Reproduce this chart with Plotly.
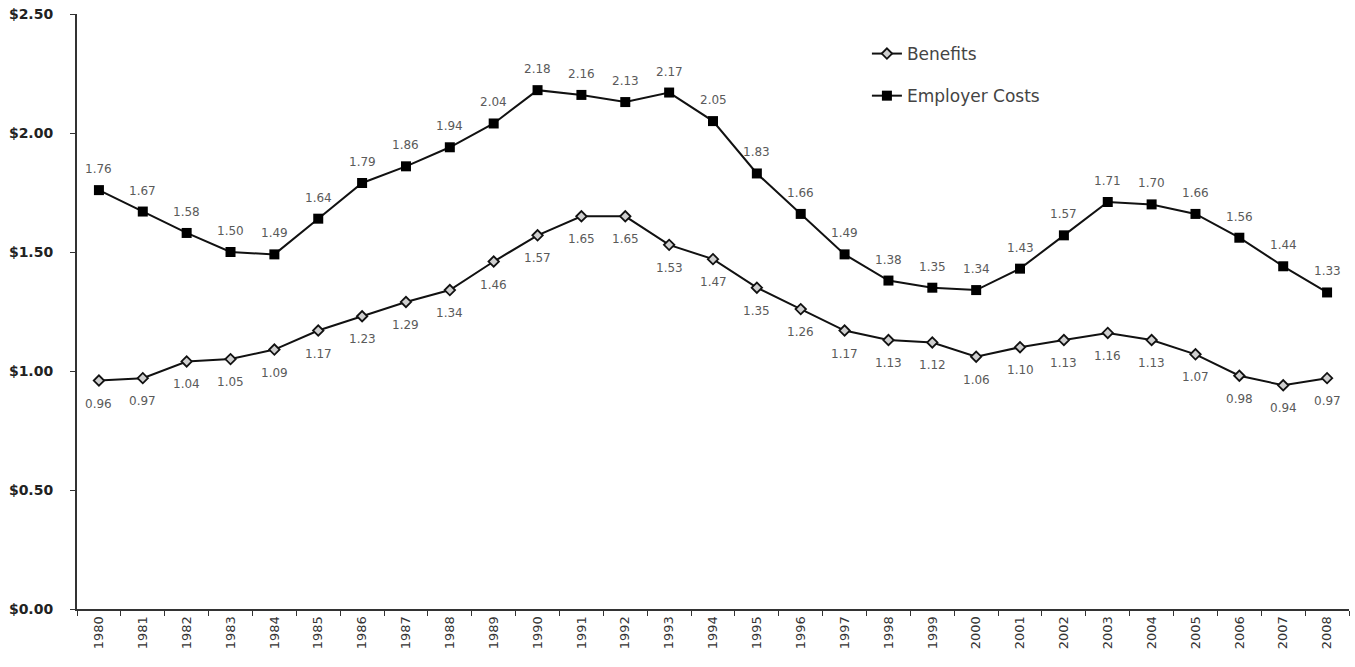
import plotly.graph_objects as go

years = [str(y) for y in range(1980, 2009)]
benefits = [0.96, 0.97, 1.04, 1.05, 1.09, 1.17, 1.23, 1.29, 1.34, 1.46,
            1.57, 1.65, 1.65, 1.53, 1.47, 1.35, 1.26, 1.17, 1.13, 1.12,
            1.06, 1.10, 1.13, 1.16, 1.13, 1.07, 0.98, 0.94, 0.97]
employer_costs = [1.76, 1.67, 1.58, 1.50, 1.49, 1.64, 1.79, 1.86, 1.94, 2.04,
                  2.18, 2.16, 2.13, 2.17, 2.05, 1.83, 1.66, 1.49, 1.38, 1.35,
                  1.34, 1.43, 1.57, 1.71, 1.70, 1.66, 1.56, 1.44, 1.33]
y_ticks = [0, 0.5, 1.0, 1.5, 2.0, 2.5]
y_tick_text = ["$0.00", "$0.50", "$1.00", "$1.50", "$2.00", "$2.50"]

FONT = "DejaVu Sans, Verdana, sans-serif"
LABEL_COLOR = "#5a5a5a"

fig = go.Figure()
fig.add_trace(go.Scatter(
    x=years, y=benefits, name="Benefits", mode="lines+markers",
    legendgroup="b",
    line=dict(color="#111111", width=2),
    marker=dict(symbol="diamond", size=8, color="#cfcfcf",
                line=dict(color="#111111", width=1.8)),
))
fig.add_trace(go.Scatter(
    x=years, y=employer_costs, name="Employer Costs", mode="lines+markers",
    legendgroup="e",
    line=dict(color="#111111", width=2),
    marker=dict(symbol="square", size=10, color="#000000"),
))

# value labels: above the employer-cost points, below the benefit points
# (category positions are given by index)
annotations = []
for i, v in enumerate(employer_costs):
    annotations.append(dict(x=i, y=v, xref="x", yref="y", text=f"{v:.2f}",
                            showarrow=False, yshift=21,
                            font=dict(family=FONT, size=12, color=LABEL_COLOR)))
for i, v in enumerate(benefits):
    annotations.append(dict(x=i, y=v, xref="x", yref="y", text=f"{v:.2f}",
                            showarrow=False, yshift=-23,
                            font=dict(family=FONT, size=12, color=LABEL_COLOR)))

fig.update_layout(
    width=1355, height=667,
    margin=dict(l=77, r=6, t=14, b=58),
    paper_bgcolor="white", plot_bgcolor="white",
    font=dict(family=FONT, color="#222222"),
    annotations=annotations,
    showlegend=True,
    legend=dict(x=0.621, y=0.963, xanchor="left", yanchor="top",
                font=dict(family=FONT, size=17, color="#444444"),
                tracegroupgap=17, bgcolor="rgba(0,0,0,0)"),
    xaxis=dict(
        type="category", range=[-0.5, 28.5],
        showline=True, linecolor="#333333", linewidth=2,
        ticks="outside", ticklen=5, tickcolor="#333333", tickson="boundaries",
        tickangle=-90, tickfont=dict(family=FONT, size=13, color="#333333"),
        showgrid=False, zeroline=False,
    ),
    yaxis=dict(
        range=[0, 2.5], tickvals=y_ticks, ticktext=y_tick_text,
        showline=True, linecolor="#333333", linewidth=2,
        ticks="outside", ticklen=5, tickcolor="#333333",
        ticklabelstandoff=14,
        tickfont=dict(family=FONT, size=14, color="#222222", weight="bold"),
        showgrid=False, zeroline=False,
    ),
)

fig.write_html("out.html")
